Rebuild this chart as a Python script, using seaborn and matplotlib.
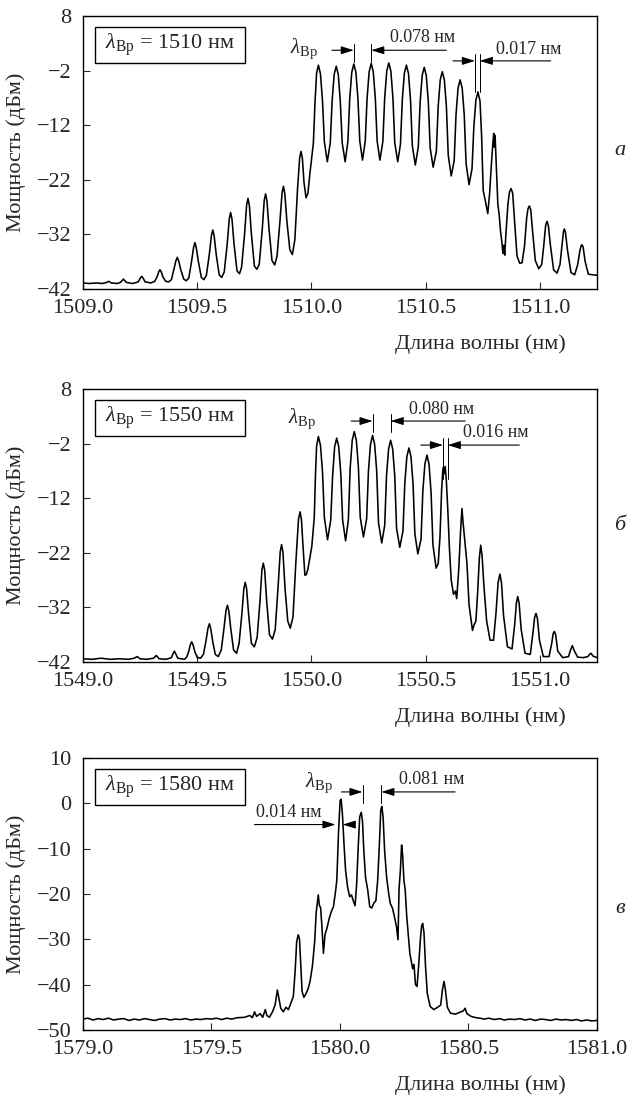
import matplotlib
matplotlib.use("Agg")
import matplotlib.pyplot as plt
import pandas as pd
import seaborn as sns
from matplotlib.patches import Rectangle
from matplotlib.ticker import FormatStrFormatter

# ---------- спектр а: λBp = 1510 нм ----------
wl_1510 = [
    1509.000, 1509.030, 1509.060, 1509.085, 1509.105, 1509.114, 1509.125, 1509.150,
    1509.165, 1509.178, 1509.191, 1509.218,
    1509.243, 1509.252, 1509.258, 1509.264, 1509.273, 1509.298,
    1509.315, 1509.326, 1509.333, 1509.338, 1509.343, 1509.351, 1509.363, 1509.376,
    1509.388, 1509.399, 1509.408, 1509.414, 1509.420, 1509.429, 1509.442, 1509.453,
    1509.464, 1509.476, 1509.485, 1509.491, 1509.497, 1509.506, 1509.519, 1509.530,
    1509.541, 1509.554, 1509.563, 1509.569, 1509.575, 1509.584, 1509.597, 1509.608,
    1509.619, 1509.632, 1509.641, 1509.647, 1509.653, 1509.662, 1509.675, 1509.686,
    1509.695, 1509.708, 1509.717, 1509.723, 1509.729, 1509.738, 1509.751, 1509.762,
    1509.772, 1509.785, 1509.794, 1509.800, 1509.806, 1509.815, 1509.828, 1509.840,
    1509.850, 1509.863, 1509.872, 1509.878, 1509.884, 1509.893, 1509.906, 1509.917,
    1509.928, 1509.940, 1509.949, 1509.955, 1509.961, 1509.968, 1509.977, 1509.985,
    1509.994, 1510.009, 1510.016, 1510.023, 1510.031, 1510.040, 1510.049, 1510.057, 1510.070,
    1510.083, 1510.091, 1510.100, 1510.109, 1510.118, 1510.127, 1510.135, 1510.148,
    1510.160, 1510.168, 1510.177, 1510.186, 1510.195, 1510.204, 1510.212, 1510.224,
    1510.236, 1510.244, 1510.253, 1510.262, 1510.271, 1510.280, 1510.288, 1510.300,
    1510.313, 1510.321, 1510.330, 1510.339, 1510.348, 1510.357, 1510.365, 1510.378,
    1510.390, 1510.398, 1510.407, 1510.416, 1510.425, 1510.434, 1510.442, 1510.455,
    1510.468, 1510.476, 1510.485, 1510.494, 1510.503, 1510.512, 1510.520, 1510.533,
    1510.547, 1510.555, 1510.564, 1510.573, 1510.582, 1510.591, 1510.599, 1510.612,
    1510.625, 1510.633, 1510.642, 1510.651, 1510.660, 1510.669, 1510.677, 1510.690,
    1510.703, 1510.711, 1510.720, 1510.729, 1510.738, 1510.745, 1510.752, 1510.762, 1510.772,
    1510.780, 1510.788, 1510.794, 1510.798, 1510.801, 1510.804, 1510.810, 1510.816,
    1510.822, 1510.828, 1510.834, 1510.838, 1510.842, 1510.846, 1510.852, 1510.860,
    1510.867, 1510.874, 1510.881, 1510.889, 1510.900, 1510.912, 1510.922, 1510.933,
    1510.942, 1510.948, 1510.954, 1510.960, 1510.967, 1510.980, 1510.995, 1511.008,
    1511.017, 1511.025, 1511.031, 1511.037, 1511.046, 1511.060, 1511.075, 1511.088,
    1511.098, 1511.103, 1511.107, 1511.112, 1511.121, 1511.136, 1511.152, 1511.165,
    1511.175, 1511.180, 1511.184, 1511.189, 1511.198, 1511.212, 1511.230, 1511.250,
]
p_1510 = [
    -40.9, -41.0, -40.9, -41.0, -40.8, -40.6, -40.9, -41.0,
    -40.8, -40.2, -40.8, -41.0,
    -40.7, -40.0, -39.7, -40.0, -40.7, -40.9,
    -40.6, -39.7, -38.8, -38.5, -38.8, -39.8, -40.6, -40.7,
    -40.3, -38.4, -36.8, -36.2, -36.9, -38.5, -40.2, -40.5,
    -40.0, -37.0, -34.4, -33.5, -34.5, -37.0, -39.9, -40.3,
    -39.5, -35.6, -32.2, -31.2, -32.3, -35.7, -39.4, -39.9,
    -38.9, -33.8, -29.2, -28.0, -29.2, -33.8, -38.7, -39.2,
    -38.0, -32.0, -26.6, -25.4, -26.7, -32.0, -37.8, -38.4,
    -37.5, -31.3, -25.8, -24.6, -25.9, -31.0, -36.8, -37.6,
    -36.0, -29.5, -24.4, -23.2, -24.5, -29.5, -34.8, -35.7,
    -33.0, -23.5, -18.0, -16.8, -18.1, -22.5, -25.3, -24.5,
    -20.8, -15.3, -8.0, -2.5, -1.0, -2.6, -7.6, -15.0, -18.7,
    -15.2, -7.6, -2.7, -1.2, -2.7, -7.8, -15.2, -18.7,
    -15.0, -7.2, -2.3, -0.8, -2.3, -7.2, -14.9, -18.4,
    -14.9, -7.1, -2.2, -0.7, -2.2, -7.1, -14.9, -18.4,
    -15.0, -7.0, -2.1, -0.6, -2.1, -7.0, -15.2, -18.7,
    -15.5, -7.4, -2.5, -1.0, -2.5, -7.4, -15.8, -19.3,
    -16.0, -7.8, -2.9, -1.4, -2.9, -7.8, -16.2, -19.7,
    -16.8, -8.6, -3.7, -2.2, -3.7, -8.6, -17.5, -21.3,
    -18.5, -10.1, -5.2, -3.7, -5.2, -10.1, -19.0, -22.9,
    -20.0, -12.3, -7.4, -5.9, -7.6, -14.0, -24.0, -26.0, -28.2,
    -24.5, -19.0, -15.5, -13.5, -16.0, -13.9, -20.0, -26.5,
    -28.5, -31.5, -33.5, -35.5, -34.0, -35.8, -31.5, -26.5,
    -24.2, -23.6, -24.5, -29.5, -36.0, -37.3, -37.2, -34.0,
    -29.0, -27.3, -26.8, -27.5, -31.0, -36.8, -38.3, -37.5,
    -34.0, -30.4, -29.6, -30.4, -34.0, -38.5, -39.1, -37.5,
    -33.5, -31.5, -31.0, -31.7, -35.0, -39.0, -39.4, -37.6,
    -35.0, -34.1, -33.9, -34.3, -37.0, -39.3, -39.4, -39.5,
]

# ---------- спектр б: λBp = 1550 нм ----------
wl_1550 = [
    1549.000, 1549.040, 1549.080, 1549.120, 1549.160, 1549.200, 1549.225, 1549.238, 1549.251,
    1549.280, 1549.310, 1549.322, 1549.334, 1549.365, 1549.388, 1549.395, 1549.401, 1549.407, 1549.416, 1549.445,
    1549.455, 1549.464, 1549.471, 1549.477, 1549.483, 1549.491, 1549.502, 1549.515,
    1549.528, 1549.539, 1549.548, 1549.554, 1549.560, 1549.569, 1549.580, 1549.593,
    1549.606, 1549.618, 1549.627, 1549.633, 1549.639, 1549.648, 1549.660, 1549.673,
    1549.684, 1549.696, 1549.705, 1549.711, 1549.717, 1549.726, 1549.738, 1549.751,
    1549.763, 1549.775, 1549.784, 1549.790, 1549.796, 1549.805, 1549.817, 1549.830,
    1549.842, 1549.855, 1549.864, 1549.870, 1549.876, 1549.885, 1549.897, 1549.908,
    1549.920, 1549.932, 1549.944, 1549.951, 1549.957, 1549.964, 1549.972, 1549.978,
    1549.985, 1550.002, 1550.013, 1550.018, 1550.023, 1550.031, 1550.040, 1550.049, 1550.057, 1550.071,
    1550.085, 1550.093, 1550.102, 1550.111, 1550.120, 1550.129, 1550.137, 1550.150,
    1550.162, 1550.170, 1550.179, 1550.188, 1550.197, 1550.206, 1550.214, 1550.228,
    1550.242, 1550.250, 1550.259, 1550.268, 1550.277, 1550.286, 1550.294, 1550.308,
    1550.321, 1550.329, 1550.338, 1550.347, 1550.356, 1550.365, 1550.373, 1550.387,
    1550.401, 1550.409, 1550.418, 1550.427, 1550.436, 1550.445, 1550.453, 1550.466,
    1550.480, 1550.488, 1550.497, 1550.506, 1550.515, 1550.524, 1550.532, 1550.546,
    1550.555, 1550.563, 1550.570, 1550.575, 1550.578, 1550.582, 1550.586, 1550.591, 1550.597, 1550.604, 1550.612,
    1550.622, 1550.630, 1550.636, 1550.645, 1550.653, 1550.659, 1550.664, 1550.672,
    1550.681, 1550.690, 1550.698, 1550.705, 1550.712, 1550.720, 1550.728, 1550.735,
    1550.741, 1550.747, 1550.755, 1550.767, 1550.782, 1550.797, 1550.808, 1550.817,
    1550.825, 1550.832, 1550.841, 1550.858, 1550.878, 1550.890, 1550.897, 1550.903,
    1550.909, 1550.918, 1550.935, 1550.958, 1550.970, 1550.977, 1550.983, 1550.989,
    1550.998, 1551.015, 1551.040, 1551.052, 1551.058, 1551.063, 1551.069, 1551.078,
    1551.100, 1551.125, 1551.134, 1551.142, 1551.150, 1551.165, 1551.190, 1551.210,
    1551.217, 1551.224, 1551.232, 1551.250,
]
p_1550 = [
    -41.4, -41.5, -41.3, -41.5, -41.4, -41.5, -41.3, -41.0, -41.4,
    -41.5, -41.3, -40.8, -41.4, -41.5, -41.2, -40.5, -40.0, -40.5, -41.3, -41.5,
    -41.1, -40.0, -38.8, -38.3, -38.9, -40.2, -41.2, -41.3,
    -40.6, -38.2, -35.8, -35.0, -35.9, -38.3, -40.6, -41.0,
    -39.8, -35.8, -32.5, -31.6, -32.6, -36.0, -39.8, -40.4,
    -38.6, -33.3, -28.5, -27.4, -28.6, -33.4, -38.6, -39.2,
    -37.5, -31.1, -25.1, -23.9, -25.2, -31.0, -37.0, -37.8,
    -36.1, -28.0, -21.8, -20.5, -21.9, -28.5, -34.5, -35.8,
    -33.7, -24.0, -15.8, -14.5, -16.0, -21.0, -26.1, -26.0,
    -25.0, -20.9, -15.5, -8.0, -2.5, -0.7, -2.3, -7.2, -15.5, -19.6,
    -16.0, -8.0, -2.6, -1.0, -2.6, -7.5, -16.0, -19.8,
    -16.0, -6.5, -1.4, 0.2, -1.4, -6.3, -15.5, -19.1,
    -15.8, -7.0, -2.1, -0.5, -2.1, -7.0, -16.5, -20.2,
    -17.0, -7.9, -3.0, -1.4, -3.0, -7.9, -17.5, -21.0,
    -18.0, -9.3, -4.4, -2.8, -4.4, -9.3, -18.5, -22.2,
    -19.5, -10.6, -5.7, -4.1, -5.8, -11.0, -20.5, -24.8,
    -24.0, -19.0, -10.5, -7.0, -6.3, -7.5, -6.2, -9.0, -14.0, -21.0, -27.0,
    -29.6, -29.0, -30.4, -25.0, -18.0, -13.9, -16.5, -20.0,
    -24.0, -31.5, -34.0, -36.2, -35.2, -34.5, -29.0, -23.0,
    -20.6, -22.5, -28.0, -34.5, -38.0, -38.0, -33.0, -27.5,
    -25.9, -27.5, -33.5, -39.2, -39.6, -35.0, -31.2, -30.0,
    -31.2, -36.0, -40.4, -40.6, -36.5, -33.8, -33.1, -34.0,
    -38.0, -41.0, -41.0, -38.5, -36.8, -36.4, -37.0, -40.0,
    -41.2, -41.0, -39.8, -39.0, -39.9, -41.1, -41.2, -41.0,
    -40.6, -40.4, -40.9, -41.2,
]

# ---------- спектр в: λBp = 1580 нм ----------
wl_1580 = [
    1579.000, 1579.020, 1579.040, 1579.060, 1579.080, 1579.100, 1579.120, 1579.140,
    1579.160, 1579.180, 1579.200, 1579.220, 1579.240, 1579.260, 1579.280, 1579.300,
    1579.320, 1579.340, 1579.360, 1579.380, 1579.400, 1579.420, 1579.440, 1579.460,
    1579.480, 1579.500, 1579.520, 1579.540, 1579.560, 1579.580, 1579.600,
    1579.630, 1579.650, 1579.660, 1579.668, 1579.676, 1579.690, 1579.700, 1579.710,
    1579.716, 1579.726, 1579.738, 1579.748, 1579.757, 1579.763, 1579.770, 1579.780,
    1579.790, 1579.800, 1579.810, 1579.819, 1579.826, 1579.832, 1579.838, 1579.843,
    1579.848, 1579.853, 1579.860, 1579.868, 1579.876, 1579.884, 1579.893, 1579.902,
    1579.908, 1579.913, 1579.916, 1579.920, 1579.925, 1579.930, 1579.936, 1579.942,
    1579.950, 1579.958, 1579.966, 1579.975, 1579.983, 1579.988, 1579.995, 1580.001,
    1580.005, 1580.010, 1580.016, 1580.022, 1580.030, 1580.038, 1580.045, 1580.052,
    1580.059, 1580.065, 1580.071, 1580.077, 1580.083, 1580.088, 1580.093, 1580.100,
    1580.108, 1580.116, 1580.124, 1580.132, 1580.140, 1580.147, 1580.154, 1580.159,
    1580.163, 1580.168, 1580.174, 1580.182, 1580.190, 1580.196, 1580.205, 1580.212,
    1580.220, 1580.226, 1580.230, 1580.235, 1580.240, 1580.244, 1580.249, 1580.254,
    1580.260, 1580.266, 1580.272, 1580.278, 1580.283, 1580.288, 1580.294, 1580.300,
    1580.306, 1580.313, 1580.318, 1580.322, 1580.327, 1580.333, 1580.340, 1580.351,
    1580.365, 1580.380, 1580.392, 1580.399, 1580.405, 1580.410, 1580.418, 1580.430,
    1580.450, 1580.470, 1580.480, 1580.487, 1580.494, 1580.510, 1580.530, 1580.545,
    1580.560, 1580.580, 1580.600, 1580.620, 1580.640, 1580.660, 1580.680, 1580.700,
    1580.720, 1580.740, 1580.760, 1580.780, 1580.800, 1580.820, 1580.840, 1580.860,
    1580.880, 1580.900, 1580.920, 1580.940, 1580.960, 1580.980, 1581.000,
]
p_1580 = [
    -47.6, -47.4, -47.8, -47.5, -47.7, -47.4, -47.8, -47.6,
    -47.5, -47.9, -47.6, -47.8, -47.5, -47.7, -47.9, -47.6,
    -47.5, -47.8, -47.6, -47.7, -47.5, -47.8, -47.6, -47.7,
    -47.5, -47.6, -47.4, -47.7, -47.4, -47.6, -47.3,
    -47.2, -46.8, -47.3, -46.0, -47.0, -46.4, -47.2, -45.5,
    -46.8, -47.2, -46.0, -44.5, -41.2, -43.0, -45.2, -46.0,
    -45.0, -45.5, -44.0, -42.6, -37.0, -30.5, -29.0, -30.0,
    -36.0, -41.5, -42.8, -42.0, -41.0, -39.3, -36.0, -30.5,
    -24.0, -21.5, -20.2, -22.5, -23.0, -27.0, -33.1, -29.0,
    -27.5, -25.5, -24.0, -22.8, -19.5, -17.0, -6.0, 0.6,
    0.9, -2.5, -9.0, -14.7, -18.5, -20.6, -20.2, -21.5,
    -22.6, -18.0, -10.0, -3.0, -2.0, -4.0, -10.5, -16.5,
    -19.0, -22.8, -23.1, -22.0, -21.5, -17.0, -8.5, -1.5,
    -0.7, -3.0, -10.5, -16.5, -20.0, -22.1, -23.2, -25.0,
    -27.2, -30.1, -19.0, -15.0, -9.2, -11.5, -17.0, -19.1,
    -25.0, -29.0, -33.1, -35.0, -36.5, -35.5, -40.0, -40.4,
    -36.0, -30.0, -27.0, -26.5, -28.5, -36.0, -42.0, -44.8,
    -45.5, -45.0, -44.5, -41.0, -39.3, -41.0, -45.0, -46.3,
    -46.5, -46.0, -45.8, -45.2, -46.4, -47.0, -47.3, -47.4,
    -47.6, -47.4, -47.7, -47.5, -47.8, -47.6, -47.7, -47.5,
    -47.8, -47.6, -47.9, -47.6, -47.7, -47.9, -47.6, -47.8,
    -47.7, -47.9, -47.7, -48.0, -47.8, -48.0, -47.9,
]

bragg = ["1510", "1550", "1580"]
letters = ["а", "б", "в"]
x_ticks = [
    [1509.0, 1509.5, 1510.0, 1510.5, 1511.0],
    [1549.0, 1549.5, 1550.0, 1550.5, 1551.0],
    [1579.0, 1579.5, 1580.0, 1580.5, 1581.0],
]
y_ticks = [
    [8, -2, -12, -22, -32, -42],
    [8, -2, -12, -22, -32, -42],
    [10, 0, -10, -20, -30, -40, -50],
]

sns.set_theme(style="ticks")
plt.rcParams["font.family"] = ["Liberation Serif", "DejaVu Serif"]
plt.rcParams["mathtext.fontset"] = "custom"
plt.rcParams["mathtext.rm"] = "Liberation Serif"
plt.rcParams["mathtext.it"] = "Liberation Serif:italic"
plt.rcParams["axes.linewidth"] = 1.0

LAM = r"$\lambda_{\mathrm{Вр}}$"

fig = plt.figure(figsize=(6.3, 10.97), dpi=100)
axes = [
    fig.add_axes([0.1313, 0.7366, 0.8164, 0.2488]),
    fig.add_axes([0.1313, 0.3965, 0.8164, 0.2489]),
    fig.add_axes([0.1313, 0.0611, 0.8164, 0.2480]),
]
spectra = [(wl_1510, p_1510), (wl_1550, p_1550), (wl_1580, p_1580)]
xlims = [(1509.0, 1511.25), (1549.0, 1551.25), (1579.0, 1581.0)]
ylims = [(-42, 8), (-42, 8), (-50, 10)]
letter_y = [0.863, 0.521, 0.172]


def strelka(ax, x0, x1, y):
    # стрелка с залитым наконечником, острие в точке x1
    ax.annotate("", xy=(x1, y), xytext=(x0, y),
                arrowprops=dict(arrowstyle="-|>,head_length=0.7,head_width=0.22",
                                color="black", lw=0.8, shrinkA=0, shrinkB=0,
                                mutation_scale=11))


def vert(ax, x, y0, y1):
    ax.plot([x, x], [y0, y1], color="black", lw=0.7)


for i, ax in enumerate(axes):
    wl, pw = spectra[i]
    df = pd.DataFrame({"wl": wl, "p": pw})
    sns.lineplot(data=df, x="wl", y="p", ax=ax, color="black", lw=1.15,
                 estimator=None, sort=False, solid_joinstyle="round")
    ax.set_xlim(*xlims[i])
    ax.set_ylim(*ylims[i])
    ax.set_xticks(x_ticks[i])
    ax.set_yticks(y_ticks[i])
    ax.xaxis.set_major_formatter(FormatStrFormatter("%.1f"))
    ax.tick_params(direction="in", length=5, width=0.8, labelsize=16,
                   top=False, right=False)
    ax.tick_params(axis="x", pad=7)
    ax.tick_params(axis="y", pad=8)
    for s in ax.spines.values():
        s.set_visible(True)
        s.set_linewidth(1.0)
        s.set_color("black")
    ax.set_ylabel("Мощность (дБм)", fontsize=16)
    ax.yaxis.set_label_coords(-0.11, 0.5)
    ax.set_xlabel("Длина волны (нм)", fontsize=16)
    ax.xaxis.set_label_coords(0.774, -0.165)

    ax.add_patch(Rectangle((0.024, 0.828), 0.292, 0.132, transform=ax.transAxes,
                           facecolor="white", edgecolor="black", lw=1.0, zorder=3))
    ax.text(0.17, 0.893, LAM + " = " + bragg[i] + " нм", transform=ax.transAxes,
            ha="center", va="center", fontsize=16, zorder=4)
    fig.text(0.984, letter_y[i], letters[i], ha="center", va="center",
             fontsize=16, style="italic")

# ---- аннотации панели а ----
ax = axes[0]
ax.text(1509.968, 2.0, LAM, ha="center", va="center", fontsize=15)
vert(ax, 1510.186, 2.95, -0.4)
vert(ax, 1510.262, 2.95, -0.4)
strelka(ax, 1510.09, 1510.186, 1.73)
strelka(ax, 1510.59, 1510.262, 1.73)
ax.text(1510.488, 4.0, "0.078 нм", ha="center", va="center", fontsize=13)
vert(ax, 1510.716, 1.1, -6.0)
vert(ax, 1510.737, 1.1, -6.0)
strelka(ax, 1510.62, 1510.716, -0.22)
strelka(ax, 1511.047, 1510.737, -0.22)
ax.text(1510.952, 1.85, "0.017 нм", ha="center", va="center", fontsize=13)

# ---- аннотации панели б ----
ax = axes[1]
ax.text(1549.96, 2.6, LAM, ha="center", va="center", fontsize=15)
vert(ax, 1550.268, 3.5, 0.2)
vert(ax, 1550.347, 3.5, 0.2)
strelka(ax, 1550.174, 1550.268, 2.13)
strelka(ax, 1550.673, 1550.347, 2.13)
ax.text(1550.57, 4.27, "0.080 нм", ha="center", va="center", fontsize=13)
vert(ax, 1550.576, -1.0, -8.5)
vert(ax, 1550.597, -1.0, -8.5)
strelka(ax, 1550.479, 1550.576, -2.27)
strelka(ax, 1550.91, 1550.597, -2.27)
ax.text(1550.808, 0.0, "0.016 нм", ha="center", va="center", fontsize=13)

# ---- аннотации панели в ----
ax = axes[2]
ax.text(1579.919, 4.5, LAM, ha="center", va="center", fontsize=15)
vert(ax, 1580.088, 4.1, 0.06)
vert(ax, 1580.161, 4.1, 0.06)
strelka(ax, 1580.006, 1580.088, 2.5)
strelka(ax, 1580.448, 1580.161, 2.5)
ax.text(1580.357, 5.2, "0.081 нм", ha="center", va="center", fontsize=13)
strelka(ax, 1579.668, 1579.983, -4.7)
strelka(ax, 1580.054, 1580.011, -4.7)
ax.text(1579.803, -2.0, "0.014 нм", ha="center", va="center", fontsize=13)

fig.savefig("out.png", dpi=100, facecolor="white")
